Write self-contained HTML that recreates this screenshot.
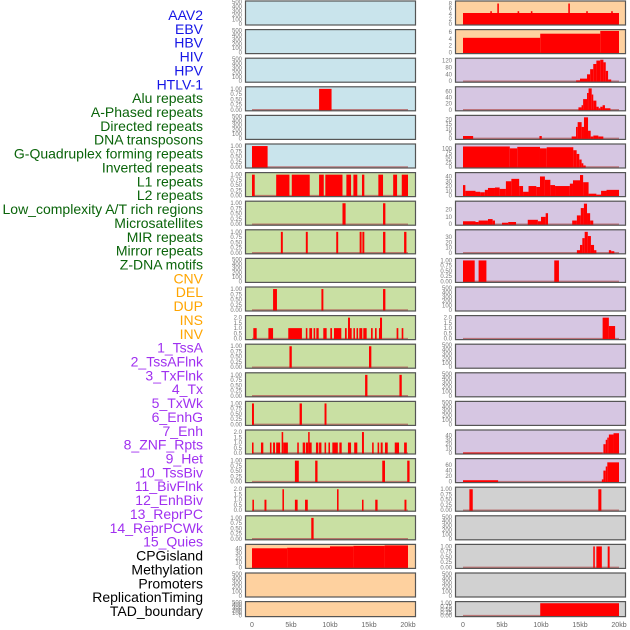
<!DOCTYPE html>
<html><head><meta charset="utf-8"><style>
html,body{margin:0;padding:0;background:#fff;}
svg{display:block;font-family:"Liberation Sans",sans-serif;}
</style></head><body>
<svg id="chart" width="630" height="630" viewBox="0 0 630 630"></svg>
<script>
const labels = ["AAV2","EBV","HBV","HIV","HPV","HTLV-1","Alu repeats","A-Phased repeats","Directed repeats","DNA transposons","G-Quadruplex forming repeats","Inverted repeats","L1 repeats","L2 repeats","Low_complexity A/T rich regions","Microsatellites","MIR repeats","Mirror repeats","Z-DNA motifs","CNV","DEL","DUP","INS","INV","1_TssA","2_TssAFlnk","3_TxFlnk","4_Tx","5_TxWk","6_EnhG","7_Enh","8_ZNF_Rpts","9_Het","10_TssBiv","11_BivFlnk","12_EnhBiv","13_ReprPC","14_ReprPCWk","15_Quies","CPGisland","Methylation","Promoters","ReplicationTiming","TAD_boundary"];
const labelGroups = [6,13,5,15,5];
const groupColors = ["#1515e6","#0a640a","#ffa500","#a030f0","#000000"];
const xTicks = [0,5,10,15,20];
const xTickLabels = ["0","5kb","10kb","15kb","20kb"];
const leftBg = ["b","b","b","b","b","b","g","g","g","g","g","g","g","g","g","g","g","g","g","o","o","o"];
const rightBg = ["o","o","p","p","p","p","p","p","p","p","p","p","p","p","p","p","p","k","k","k","k","k"];
const leftScale = ["E","E","E","U","E","U","U","U","U","E","U","D","U","U","U","D","U","D","U","C","E","E"];
const rightScale = ["A","B","H","L","T","G","M","N","R","U","E","D","E","E","E","P","Q","U","E","U","E","U"];
const scaleMax = {E:500,U:1.05,D:2.1,C:46,A:8.6,B:6.4,H:128,L:72,T:23,G:118,M:46,N:30,R:42,P:50,Q:80};
const scaleTicks = {E:[0,100,200,300,400,500],U:[0,0.25,0.5,0.75,1],D:[0,0.5,1,1.5,2],C:[0,10,20,30,40],A:[0,2,4,6,8],B:[0,2,4,6],H:[0,40,80,120],L:[0,20,40,60],T:[0,5,10,15,20],G:[0,25,50,75,100],M:[0,10,20,30,40],N:[0,10,20],R:[0,10,20,30],P:[0,10,20,30,40],Q:[0,20,40,60]};
const scaleDigits = {U:2,D:1};
const leftSeries = [
 [],[],[],
 [[8.6,10.2,1]],
 [],
 [[0,2,1]],
 [[0,0.35,1],[3.1,4.8,1],[5.1,7.4,1],[8.6,9.2,1],[9.4,11.6,1],[12.1,12.7,1],[13.0,13.5,1],[14.1,14.4,1],[16.2,16.8,1],[18.1,18.6,1],[19.2,20,1]],
 [[11.6,12.0,1],[16.8,17.1,1]],
 [[3.7,3.95,1],[6.9,7.15,1],[10.8,11.05,1],[13.8,14.05,1],[14.15,14.4,1],[16.8,17.1,1],[19.5,19.8,1]],
 [],
 [[2.7,3.2,1],[8.9,9.15,1],[16.8,17.1,1]],
 [[0.17,0.6,1],[2.1,2.7,1],[4.65,6.4,1],[6.9,7.1,1],[7.35,7.7,1],[7.9,8.1,1],[8.25,8.55,1],[9.14,9.57,1],[10.04,10.26,1],[10.51,11.45,1],[11.92,12.14,1],[12.31,12.56,2],[12.56,12.78,1],[13.0,13.2,1],[13.4,13.6,1],[13.76,14.14,1],[14.27,14.7,1],[15.26,15.47,1],[15.77,15.98,1],[16.28,16.41,1],[16.41,16.67,2],[18.54,18.76,1],[19.19,19.4,1]],
 [[4.8,5.1,1],[15.0,15.3,1]],
 [[14.5,14.8,1],[18.9,19.2,1]],
 [[0,0.25,1],[6.1,6.4,1],[9.3,9.55,1]],
 [[0,0.2,1],[1.15,1.45,1],[2.3,2.5,1],[2.7,2.95,1],[3.1,3.6,1],[3.8,4.0,2],[4.0,4.6,1],[5.8,6.0,1],[6.5,6.8,1],[6.9,7.2,1],[7.2,7.35,2],[7.35,7.65,1],[8.2,8.5,1],[8.6,8.9,1],[9.3,9.5,1],[9.8,10.0,1],[10.3,11.0,1],[11.2,11.5,1],[12.3,12.7,1],[13.1,13.5,1],[14.1,14.35,2],[15.4,15.6,1],[16.1,16.3,1],[16.5,16.75,1],[17.05,17.4,1],[18.3,18.85,1],[19.5,19.85,1]],
 [[5.5,6.0,1],[8.1,8.4,1],[16.7,17.05,1],[19.9,20.2,1]],
 [[0.05,0.25,1],[1.6,1.85,1],[3.9,4.1,2],[5.5,5.85,1],[6.8,7.15,1],[10.9,11.1,2],[14.1,14.3,1],[15.8,16.1,1],[19.55,19.8,1]],
 [[7.6,7.9,1]],
 [[0,4.5,40],[4.5,10,41],[10,13,44],[13,17,45],[17,20,46]],
 [],[]
];
const rightSeries = [
 [[0,20,4.3],[3.5,3.7,5],[4.4,4.6,8],[7,7.2,5],[8.7,8.9,5],[13.5,13.7,8],[15.8,16,5],[19,19.2,5]],
 [[0,9.9,4.3],[9.9,17.6,5.5],[17.6,20,6.3]],
 [[14.5,15.0,5],[15.0,15.9,15],[15.9,16.3,40],[16.3,16.7,70],[16.7,17.1,100],[17.1,17.6,120],[17.6,18.0,125],[18.0,18.3,110],[18.3,18.6,60],[18.6,19.0,10]],
 [[14.8,15.2,8],[15.2,15.4,15],[15.4,15.9,35],[15.9,16.1,55],[16.1,16.5,70],[16.5,16.7,50],[16.7,17.1,30],[17.1,17.4,10],[17.4,17.6,5],[17.6,17.9,10],[17.9,18.2,15],[18.2,18.9,5]],
 [[0,1.3,2.5],[9.8,10.1,2.5],[13.93,14.49,2],[14.49,14.7,12],[14.7,15.21,17],[15.21,15.51,12],[15.51,16.03,22],[16.03,16.37,8],[16.37,16.71,2],[16.71,17.35,3],[17.35,17.99,2]],
 [[0,6.0,110],[6.0,6.96,100],[6.96,9.87,108],[9.87,10.73,100],[10.73,14.14,106],[14.14,14.57,90],[14.57,14.91,70],[14.91,15.21,40],[15.21,15.43,20],[15.43,15.73,8]],
 [[0,0.3,22],[0.3,1.6,10],[1.6,2.2,8],[2.2,2.8,7],[2.8,3.2,12],[3.2,4.1,16],[4.1,4.7,17],[4.7,5.5,14],[5.5,6.2,30],[6.2,7.2,35],[7.2,7.7,20],[7.7,8.4,8],[8.4,9.4,20],[9.4,9.87,18],[9.87,10.5,40],[10.5,11.2,33],[11.2,11.8,22],[11.8,13.7,20],[13.7,14.1,25],[14.1,15.0,32],[15.0,15.4,43],[15.4,16.1,28],[16.1,17.1,4],[17.1,17.7,2],[17.7,18.4,10],[18.4,20,12]],
 [[0,1.6,4],[1.6,2.0,3],[2.0,3.2,5],[3.2,3.8,7],[3.8,4.1,5],[5.0,5.8,2],[5.8,6.8,3],[8.3,9.6,6],[9.6,10.0,4],[10.0,10.6,10],[10.6,10.9,15],[14.0,14.6,5],[14.6,15.1,12],[15.1,15.5,22],[15.5,15.9,28],[15.9,16.3,15],[16.3,16.7,5]],
 [[14.6,15.0,5],[15.0,15.3,15],[15.3,15.6,28],[15.6,16.0,40],[16.0,16.4,32],[16.4,16.8,15],[16.8,17.1,5],[18.7,19.0,5],[19.0,19.4,3]],
 [[0,1.5,1],[2.0,3.0,1],[11.7,12.3,1]],
 [],
 [[17.9,18.7,2],[18.7,19.5,1.2]],
 [],[],[],
 [[0,17.9,1],[18.0,18.3,20],[18.3,18.5,30],[18.5,18.7,35],[18.7,19.3,42],[19.3,20,45]],
 [[0,4.5,5],[17.8,18.0,8],[18.0,18.3,40],[18.3,18.5,55],[18.5,20,70]],
 [[0.82,1.25,1],[17.35,17.74,1]],
 [],
 [[16.7,16.9,1],[17.1,17.8,1],[18.55,18.8,1]],
 [],
 [[9.9,20,1]]
];
const bgColors = {b:"#c9e4ec",g:"#c9e0a3",o:"#fed19f",p:"#d6c6e2",k:"#d1d1d1"};
</script>
<script>
const NS="http://www.w3.org/2000/svg";
const svg=document.getElementById('chart');
function mk(tag,attrs,parent){const e=document.createElementNS(NS,tag);for(const k in attrs)e.setAttribute(k,attrs[k]);(parent||svg).appendChild(e);return e;}
let li=0;
const lab=mk('g',{});


labelGroups.forEach((n,gi)=>{for(let k=0;k<n;k++){const t=mk('text',{x:203,y:15+li*13.86+5,'text-anchor':'end','font-size':'14',fill:groupColors[gi]},lab);t.textContent=labels[li];


li++;}});
const cols=[{x:245,w:171,x0:252,bg:leftBg,sc:leftScale,se:leftSeries,name:'left'},{x:455,w:171,x0:463,bg:rightBg,sc:rightScale,se:rightSeries,name:'right'}];
const kbPx=7.8;
cols.forEach(c=>{
 const xs=kb=>c.x0+kb*kbPx;
 for(let i=0;i<22;i++){
  const top=0.5+i*28.6, h=(i==21?16:25);
  const g=mk('g',{});
  
  
  mk('rect',{x:c.x,y:top,width:c.w,height:h,fill:bgColors[c.bg[i]]},g);
  const s=c.sc[i], ymax=scaleMax[s];
  const y0=top+h-1.5, span=h-3;
  const ys=v=>y0-v/ymax*span;
  const cid='clip'+c.name+i;
  const cp=mk('clipPath',{id:cid},g);mk('rect',{x:c.x,y:top,width:c.w,height:h},cp);
  const data=c.se[i];
  if(data.length){
   const bl=mk('line',{x1:xs(0),x2:xs(20),y1:y0,y2:y0,stroke:'#b05050','stroke-width':1.5,'stroke-opacity':0.7},g);
   
   
  }
  data.forEach(d=>{
   const x1=xs(d[0]),x2=xs(d[1]);
   const r=mk('rect',{x:x1,y:ys(d[2]),width:Math.max(1.5,x2-x1),height:y0-ys(d[2])+1,fill:'#ff0000','clip-path':'url(#'+cid+')'},g);
   
   
  });
  mk('rect',{x:c.x+0.5,y:top+0.5,width:c.w-1,height:h-1,fill:'none',stroke:'#555','stroke-width':1.2},g);
  const dg=scaleDigits[s]||0;
  scaleTicks[s].forEach(v=>{
   const t=mk('text',{x:c.x-3,y:ys(v)+2,'text-anchor':'end','font-size':6,fill:'#777'},g);
   t.textContent=v.toFixed(dg);
   
   
  });
 }
 xTicks.forEach((v,k)=>{
  const t=mk('text',{x:xs(v),y:627,'text-anchor':'middle','font-size':7,fill:'#666'});
  t.textContent=xTickLabels[k];
  
  
 });
});
</script>
</body></html>
